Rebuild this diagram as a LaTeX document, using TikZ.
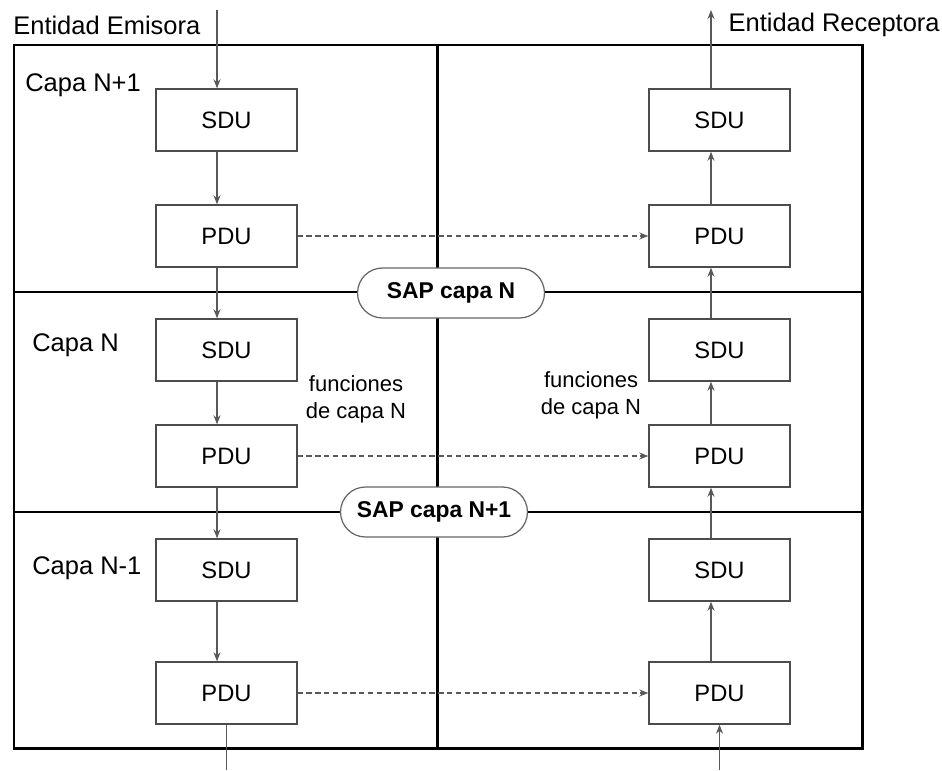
\documentclass[tikz,border=0pt]{standalone}
\usepackage{fontspec}
\setmainfont{Liberation Sans}
\usetikzlibrary{arrows.meta}

\begin{document}
\begin{tikzpicture}[x=0.02cm,y=-0.02cm,
		caja/.style={draw=black!70,line width=0.8pt,rectangle,minimum width=2.82cm,minimum height=1.24cm,inner sep=0pt,font=\fontsize{13.5pt}{16pt}\selectfont},
		sap/.style={draw=black!60,line width=0.7pt,fill=white,rounded corners=0.5cm,minimum width=3.74cm,minimum height=1cm,inner sep=0pt,font=\bfseries\fontsize{13pt}{15pt}\selectfont},
		etiqueta/.style={inner sep=0pt,font=\fontsize{14.5pt}{17pt}\selectfont},
		funcion/.style={inner sep=0pt,align=center,font=\fontsize{12.5pt}{15.4pt}\selectfont},
		flecha/.style={-{Stealth[length=1.8mm,width=1.4mm]},draw=black!65,line width=0.8pt},
		linea/.style={draw=black!65,line width=0.8pt},
		punteada/.style={flecha,densely dashed},
		marco/.style={line width=1.7pt}]
	\useasboundingbox (0,0) rectangle (942,770);
	
	% marco y capas
	\draw[marco] (14,45) rectangle (862,748);
	\draw[marco] (14,292) -- (862,292);
	\draw[marco] (14,512) -- (862,512);
	\draw[marco] (437,45) -- (437,748);
	\node[sap] (sapN) at (451,293) {SAP capa N};
	\node[sap] (sapN1) at (434,512) {SAP capa N+1};
	
	\node[etiqueta,anchor=west] (emisora) at (13,25) {Entidad Emisora};
	\node[etiqueta,anchor=east] (receptora) at (940,25) {Entidad Receptora};
	\node[etiqueta,anchor=west] (capa1) at (25,85) {Capa N+1};
	\node[etiqueta,anchor=west] (capa2) at (32,345) {Capa N};
	\node[etiqueta,anchor=west] (capa3) at (32,568) {Capa N-1};
	\node[funcion] (funE) at (356,399) {funciones\\de capa N};
	\node[funcion] (funR) at (591,395) {funciones\\de capa N};
	
	% entidad emisora
	\node[caja] (sduE1) at (226.5,120) {SDU};
	\node[caja] (pduE1) at (226.5,236) {PDU};
	\node[caja] (sduE2) at (226.5,350) {SDU};
	\node[caja] (pduE2) at (226.5,456) {PDU};
	\node[caja] (sduE3) at (226.5,570) {SDU};
	\node[caja] (pduE3) at (226.5,693) {PDU};
	
	% entidad receptora
	\node[caja] (sduR1) at (719.5,120) {SDU};
	\node[caja] (pduR1) at (719.5,236) {PDU};
	\node[caja] (sduR2) at (719.5,350) {SDU};
	\node[caja] (pduR2) at (719.5,456) {PDU};
	\node[caja] (sduR3) at (719.5,570) {SDU};
	\node[caja] (pduR3) at (719.5,693) {PDU};
	
	\coordinate (entra) at (217,10);
	\coordinate (sale) at (711,10);
	\coordinate (bajaE) at (226.5,770);
	\coordinate (subeR) at (719.5,770);
	
	\draw[flecha] (entra) -- (entra |- sduE1.north);
	\draw[flecha] (sduE1.south -| entra) -- (pduE1.north -| entra);
	\draw[flecha] (pduE1.south -| entra) -- (sduE2.north -| entra);
	\draw[flecha] (sduE2.south -| entra) -- (pduE2.north -| entra);
	\draw[flecha] (pduE2.south -| entra) -- (sduE3.north -| entra);
	\draw[flecha] (sduE3.south -| entra) -- (pduE3.north -| entra);
	\draw[linea] (pduE3.south) -- (bajaE);
	
	\draw[flecha] (subeR) -- (pduR3.south);
	\draw[flecha] (pduR3.north -| sale) -- (sduR3.south -| sale);
	\draw[flecha] (sduR3.north -| sale) -- (pduR2.south -| sale);
	\draw[flecha] (pduR2.north -| sale) -- (sduR2.south -| sale);
	\draw[flecha] (sduR2.north -| sale) -- (pduR1.south -| sale);
	\draw[flecha] (pduR1.north -| sale) -- (sduR1.south -| sale);
	\draw[flecha] (sduR1.north -| sale) -- (sale);
	
	% comunicacion entre pares
	\draw[punteada] (pduE1) -- (pduR1);
	\draw[punteada] (pduE2) -- (pduR2);
	\draw[punteada] (pduE3) -- (pduR3);
\end{tikzpicture}
\end{document}
